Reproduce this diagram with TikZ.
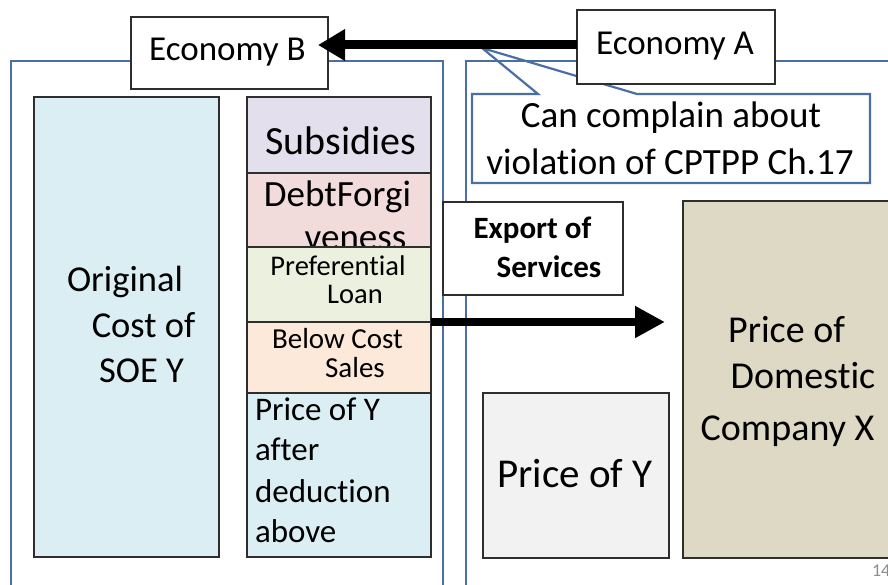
\documentclass[tikz,border=0pt]{standalone}
\usepackage{fontspec}
\setmainfont{Carlito}[Ligatures=NoCommon]
\usetikzlibrary{arrows.meta}
\definecolor{panelblue}{HTML}{4A6FA5}
\definecolor{boxline}{HTML}{2E2E2E}
\definecolor{origfill}{HTML}{DAEEF3}
\definecolor{subfill}{HTML}{E4DFEC}
\definecolor{debtfill}{HTML}{F2DCDB}
\definecolor{preffill}{HTML}{EBF1DE}
\definecolor{belowfill}{HTML}{FDE9D9}
\definecolor{pyfill}{HTML}{F2F2F2}
\definecolor{domfill}{HTML}{DDD9C4}
\newcommand\myfs[1]{\fontsize{#1pt}{#1pt}\selectfont}
\begin{document}
\begin{tikzpicture}[x=1pt,y=-1pt,
  box/.style={draw=boxline, line width=1.5pt, inner sep=0pt, outer sep=0pt, anchor=north west},
  panel/.style={draw=panelblue, line width=2.2pt},
  lbl/.style={anchor=base, inner sep=0pt, outer sep=0pt, text=black},
  lbll/.style={anchor=base west, inner sep=0pt, outer sep=0pt, text=black},
  bigarrow/.style={-{Triangle[length=27pt,width=30pt]}, line width=9pt, draw=black},
  exparrow/.style={-{Triangle[length=30pt,width=30pt]}, line width=7.5pt, draw=black},
  calloutline/.style={draw=panelblue, line width=2.2pt, line join=miter},
]
\useasboundingbox (0,0) rectangle (888,585);
\fill[white] (0,0) rectangle (888,585);

% right panel contents
\node[box, fill=domfill, minimum width=230pt, minimum height=357pt] (dom) at (683,201) {};
\node[lbl, font=\myfs{38}] (dom1) at (786.5,342) {Price of};
\node[lbl, font=\myfs{38}] (dom2) at (803,388) {Domestic};
\node[lbl, font=\myfs{38}] (dom3) at (787.5,440) {Company X};

\node[box, fill=pyfill, minimum width=186pt, minimum height=165pt] (py) at (483,393) {};
\node[lbl, font=\myfs{41}] (pyt) at (575,487) {Price of Y};

% left panel contents
\node[box, fill=origfill, minimum width=185pt, minimum height=460pt] (orig) at (34,97) {};
\node[lbl, font=\myfs{36.5}] (o1) at (125,291) {Original};
\node[lbl, font=\myfs{36.5}] (o2) at (143.5,337) {Cost of};
\node[lbl, font=\myfs{36.5}] (o3) at (141.5,382) {SOE Y};

\node[box, fill=subfill, minimum width=184pt, minimum height=76pt] (sub) at (247,97) {};
\node[lbl, font=\myfs{40}] (subt) at (341,155) {Subsidies};
\node[box, fill=debtfill, minimum width=184pt, minimum height=74pt] (debt) at (sub.south west) {};
\node[lbl, font=\myfs{37}] (debt1) at (337.5,207) {DebtForgi};
\node[lbl, font=\myfs{37}] (debt2) at (355.5,250) {veness};
\node[box, fill=preffill, minimum width=184pt, minimum height=75pt] (pref) at (debt.south west) {};
\node[lbl, font=\myfs{28.5}] (pref1) at (338,275) {Preferential};
\node[lbl, font=\myfs{28.5}] (pref2) at (355,303) {Loan};
\node[box, fill=belowfill, minimum width=184pt, minimum height=71pt] (below) at (pref.south west) {};
\node[lbl, font=\myfs{29}] (below1) at (337.5,348) {Below Cost};
\node[lbl, font=\myfs{29}] (below2) at (355,377) {Sales};
\node[box, fill=origfill, minimum width=184pt, minimum height=164pt] (after) at (below.south west) {};
\node[lbll, font=\myfs{33}] (a1) at (255,420) {Price of Y};
\node[lbll, font=\myfs{33}] (a2) at (255,460) {after};
\node[lbll, font=\myfs{33}] (a3) at (255,502) {deduction};
\node[lbll, font=\myfs{33}] (a4) at (255,542) {above};

% callout
\node[fill=white, inner sep=0pt, outer sep=0pt, anchor=north west, minimum width=398pt, minimum height=89pt] (call) at (472,94) {};
\coordinate (calltip) at (482,48);
\draw[calloutline] (call.north west) -- ([xshift=66pt]call.north west) -- (calltip)
  -- ([xshift=165pt]call.north west) -- (call.north east) -- (call.south east)
  -- (call.south west) -- cycle;
\node[lbl, font=\myfs{37}] (c1) at (671,128) {Can complain about};
\node[lbl, font=\myfs{37}] (c2) at (670,175) {violation of CPTPP Ch.17};

% panels
\draw[panel] (11,600) -- (11,61) -- (443,61) -- (443,600);
\draw[panel] (466,600) -- (466,61) -- (900,61);

% export box
\node[box, fill=white, minimum width=180pt, minimum height=93pt] (exp) at (443,202) {};
\node[lbl, font=\myfs{31}\bfseries] (e1) at (532.5,239) {Export of};
\node[lbl, font=\myfs{31}\bfseries] (e2) at (549,277) {Services};

% economies
\node[box, fill=white, minimum width=197pt, minimum height=72pt] (ecoB) at (131,17) {};
\node[lbl, font=\myfs{35}] (ecoBt) at (227.5,61) {Economy B};
\node[box, fill=white, minimum width=198pt, minimum height=74pt] (ecoA) at (577,10) {};
\node[lbl, font=\myfs{35}] (ecoAt) at (675,55) {Economy A};

% arrows
\draw[bigarrow] ([yshift=2pt]ecoA.west) -- ([xshift=-10pt,yshift=8pt]ecoB.east);
\coordinate (exptip) at (665,322);
\draw[exparrow] (pref.south east) -- (exptip);

% page number
\node[lbll, font=\myfs{18}, text=black!45] (pg) at (872,576) {14};
\end{tikzpicture}
\end{document}
